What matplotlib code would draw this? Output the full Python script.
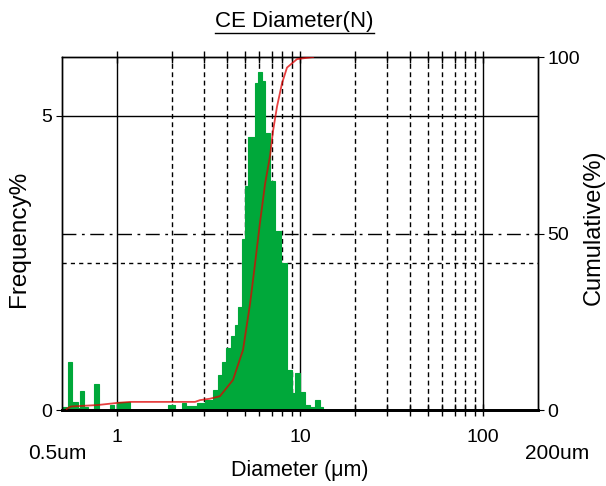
import matplotlib
matplotlib.use('Agg')
import matplotlib.pyplot as plt
from matplotlib.lines import Line2D
from matplotlib.ticker import FixedLocator, NullFormatter

plt.rcParams['font.family'] = ['Liberation Sans', 'DejaVu Sans']

# histogram bin edges (um) and frequency (%)
bin_edges = [0.500, 0.533, 0.540, 0.568, 0.612, 0.628, 0.660, 0.694, 0.749, 0.797,
             0.916, 0.963, 1.0, 1.178, 1.90, 2.07, 2.27, 2.38, 2.74, 3.03,
             3.35, 3.56, 3.75, 3.94, 4.20, 4.41, 4.58, 4.82, 5.01, 5.20,
             5.68, 5.90, 6.22, 6.44, 6.86, 7.30, 7.86, 8.49, 9.04,
             9.39, 10.0, 10.65, 11.34, 12.08, 12.86, 13.36]
freq = [0.05, 0.0, 0.81, 0.14, 0.03, 0.32, 0.05, 0.02, 0.45, 0.0,
        0.08, 0.02, 0.13, 0.0, 0.08, 0.0, 0.12, 0.06, 0.12, 0.17,
        0.34, 0.6, 0.81, 1.05, 1.25, 1.45, 1.75, 2.9, 3.8, 4.64,
        5.55, 5.75, 5.6, 4.7, 3.9, 3.05, 2.5, 0.68, 0.29,
        0.63, 0.3, 0.08, 0.05, 0.17, 0.05]

# cumulative curve (%)
cum_d = [0.53, 0.56, 0.78, 1.0, 1.18, 2.67, 2.84, 3.22, 3.65, 4.30, 4.88,
         5.33, 5.68, 6.04, 6.44, 6.86, 7.12, 7.49, 7.97, 8.49, 9.63, 11.8]
cum_pct = [0.3, 1.0, 1.4, 2.0, 2.3, 2.3, 2.8, 3.2, 3.9, 8.5, 17,
           30, 41.5, 53, 64, 72, 79, 86, 92.5, 97, 99.4, 100]

minor_pos = [2, 3, 4, 5, 6, 7, 8, 9, 20, 30, 40, 50, 60, 70, 80, 90]
major_pos = [1, 10, 100]

fig = plt.figure(figsize=(6.06, 4.86), dpi=100)
ax = fig.add_axes([62 / 606, 76 / 486, 476 / 606, 353 / 486])
ax2 = ax.twinx()

ax.set_xscale('log')
ax.set_xlim(0.5, 200)
ax.set_ylim(0, 6)
ax2.set_ylim(0, 100)

# grid
for p in minor_pos:
    ax.axvline(p, color='black', lw=1, ls=(0, (3.5, 2.5)), zorder=0)
for p in major_pos:
    ax.axvline(p, color='black', lw=1, zorder=0)
ax.axhline(5, color='black', lw=1, zorder=0)
ax.axhline(2.5, color='black', lw=1, ls=(0, (3, 3)), zorder=0)
ax.axhline(3, color='black', lw=1, ls=(0, (10, 4, 2, 4)), zorder=0)

lefts = bin_edges[:-1]
widths = [r - l for l, r in zip(bin_edges[:-1], bin_edges[1:])]
ax.bar(lefts, freq, width=widths, align='edge', color='#00a83a',
       edgecolor='#00a83a', lw=0.8, zorder=2)
ax2.plot(cum_d, cum_pct, color='#e00000', alpha=0.75, lw=1.3, zorder=3)

# ticks
ax.xaxis.set_major_locator(FixedLocator(major_pos))
ax.xaxis.set_minor_locator(FixedLocator(minor_pos))
ax.xaxis.set_minor_formatter(NullFormatter())
ax.set_xticklabels(['1', '10', '100'])
ax.tick_params(axis='x', which='both', direction='inout', length=8, width=1,
               labelsize=14, pad=10, top=True, bottom=True)
ax.set_yticks([0, 5])
ax.set_yticklabels(['0', '5'])
ax.tick_params(axis='y', direction='out', length=4, labelsize=14, pad=3)
ax2.set_yticks([0, 50, 100])
ax2.tick_params(axis='y', direction='out', length=4, labelsize=14, pad=3)

for a in (ax, ax2):
    for s in a.spines.values():
        s.set_linewidth(1)
ax.spines['bottom'].set_linewidth(2)
ax2.spines['bottom'].set_linewidth(2)

fig.text(57 / 606, 1 - 453 / 486, '0.5um', ha='center', va='center', fontsize=15)
fig.text(557 / 606, 1 - 453 / 486, '200um', ha='center', va='center', fontsize=15)
fig.text(300 / 606, 1 - 470 / 486, 'Diameter (\u03bcm)', ha='center', va='center', fontsize=15.5)
fig.text(19 / 606, 1 - 239 / 486, 'Frequency%', ha='center', va='center',
         rotation=90, fontsize=17.5)
fig.text(594 / 606, 1 - 227 / 486, 'Cumulative(%)', ha='center', va='center',
         rotation=90, fontsize=17)

title = fig.text(294.5 / 606, 1 - 21 / 486, 'CE Diameter(N)', ha='center',
                 va='center', fontsize=16)
renderer = fig.canvas.get_renderer()
bb = title.get_window_extent(renderer)
y_line = bb.y0 - 2
fig.add_artist(Line2D([bb.x0, bb.x1], [y_line, y_line], color='black', lw=1,
                      transform=None))

fig.savefig('out.png', dpi=100)
